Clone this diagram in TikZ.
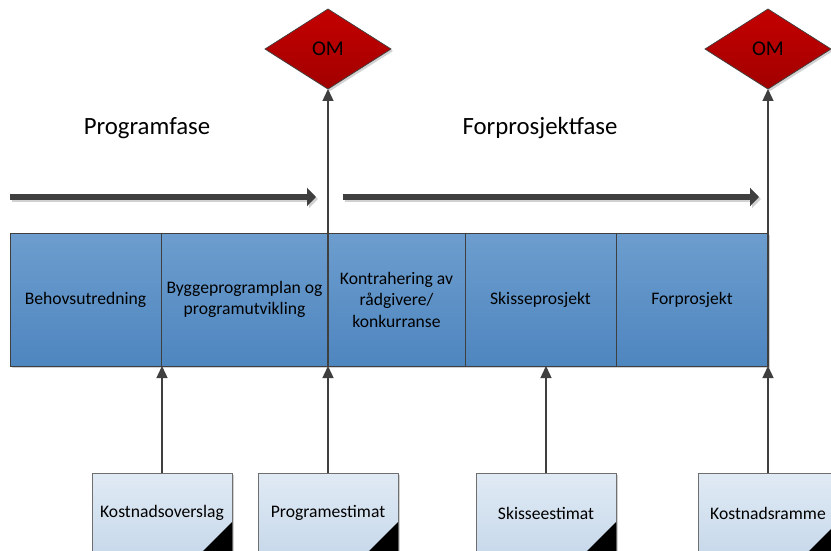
\documentclass[tikz,border=0pt]{standalone}
\usepackage{fontspec}
\setmainfont{Carlito}
\usetikzlibrary{arrows.meta,shapes.geometric,shadows,calc}
\definecolor{linegray}{HTML}{3F3F3F}
\definecolor{celltop}{HTML}{6D9DCE}
\definecolor{cellbot}{HTML}{4E86BF}
\definecolor{doctop}{HTML}{E0EAF4}
\definecolor{docbot}{HTML}{C8D9EB}
\definecolor{docline}{HTML}{6F6F6F}
\definecolor{omtop}{HTML}{C40000}
\definecolor{ombot}{HTML}{A20000}

\begin{document}
\begin{tikzpicture}[x=1pt,y=-1pt,
  softshadow/.style={drop shadow={shadow xshift=2pt,shadow yshift=-2pt,fill=black,opacity=0.18}},
  cell/.style={draw=linegray, line width=0.9pt, top color=celltop, bottom color=cellbot,
    minimum height=133pt, inner sep=1pt, outer sep=0pt, anchor=north west, align=center,
    font=\fontsize{17.6}{21.5}\selectfont, text=black, softshadow},
  doc/.style={draw=docline, line width=0.7pt, top color=doctop, bottom color=docbot,
    minimum width=140pt, minimum height=80pt, inner sep=1pt, outer sep=0pt,
    font=\fontsize{17.6}{21.5}\selectfont, text=black, softshadow},
  milestone/.style={diamond, draw=linegray, line width=0.7pt, top color=omtop, bottom color=ombot,
    minimum width=126pt, minimum height=80pt, inner sep=0pt, outer sep=0pt,
    font=\fontsize{21}{24}\selectfont, text=black, softshadow},
  phase/.style={font=\fontsize{24.8}{28}\selectfont, text=black},
  phasearrow/.style={line width=6pt, draw=linegray, -{Triangle[length=9pt,width=18pt]}},
  feed/.style={line width=1.4pt, draw=linegray, -{Triangle[length=12pt,width=11pt]}},
]
\path[use as bounding box] (0,0) rectangle (831,551);
\clip (0,0) rectangle (831,551);

% phase titles
\node[phase] (t1) at (147,128) {Programfase};
\node[phase] (t2) at (540,128) {Forprosjektfase};

% phase arrows
\coordinate (a1s) at (10,197);
\coordinate (a1e) at (316,197);
\coordinate (a2s) at (343,197);
\coordinate (a2e) at (759,197);
\draw[phasearrow, draw=black!18, transform canvas={xshift=2pt,yshift=-2pt}] (a1s) -- (a1e);
\draw[phasearrow, draw=black!18, transform canvas={xshift=2pt,yshift=-2pt}] (a2s) -- (a2e);
\draw[phasearrow] (a1s) -- (a1e);
\draw[phasearrow] (a2s) -- (a2e);

% process row
\node[cell, minimum width=151pt] (c1) at (10,233) {Behovsutredning};
\node[cell, minimum width=167pt] (c2) at (c1.north east) {Byggeprogramplan og\\programutvikling};
\node[cell, minimum width=137pt] (c3) at (c2.north east) {Kontrahering av\\rådgivere/\\konkurranse};
\node[cell, minimum width=151pt] (c4) at (c3.north east) {Skisseprosjekt};
\node[cell, minimum width=152pt] (c5) at (c4.north east) {Forprosjekt};

% decision points
\node[milestone] (om1) at (328,49) {OM};
\node[milestone] (om2) at (768,49) {OM};

% estimate documents
\node[doc] (d1) at (162,513) {Kostnadsoverslag};
\node[doc] (d2) at (328,513) {Programestimat};
\node[doc] (d3) at (546,513) {Skisseestimat};
\node[doc] (d4) at (768,513) {Kostnadsramme};
\foreach \d in {d1,d2,d3,d4}{
  \fill[black] ($(\d.north east)+(0,49)$) -- ($(\d.north east)+(0,100)$)
    -- ($(\d.north east)+(-51,100)$) -- cycle;
}

% connectors
\draw[feed] (d1.north) -- (d1.north |- c1.south);
\draw[feed] (d2.north) -- (d2.north |- c2.south);
\draw[feed] (d3.north) -- (d3.north |- c4.south);
\draw[feed] (d4.north) -- (d4.north |- c5.south);
\draw[feed] (c2.south east) -- (c2.south east |- om1.south);
\draw[feed] (c5.south east) -- (c5.south east |- om2.south);
\end{tikzpicture}
\end{document}
